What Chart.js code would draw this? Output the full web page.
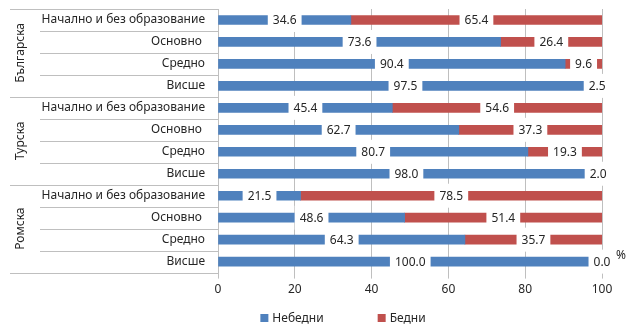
<!DOCTYPE html>
<html>
<head>
<meta charset="utf-8">
<script src="https://cdn.jsdelivr.net/npm/chart.js@4.4.1/dist/chart.umd.min.js"></script>
<style>
  html, body { margin: 0; padding: 0; background: #ffffff; }
  #wrap { width: 630px; height: 330px; position: relative; }
</style>
</head>
<body>
<div id="wrap"><canvas id="c"></canvas></div>
<script>
// Ethnic groups, each split into four education levels
const groups = ['Българска', 'Турска', 'Ромска'];
const levels = ['Начално и без образование', 'Основно ', 'Средно', 'Висше'];

// Share (%) of non-poor and poor, in the order groups × levels
const nonPoor = [34.6, 73.6, 90.4, 97.5, 45.4, 62.7, 80.7, 98.0, 21.5, 48.6, 64.3, 100.0];
const poor    = [65.4, 26.4, 9.6, 2.5, 54.6, 37.3, 19.3, 2.0, 78.5, 51.4, 35.7, 0.0];

const seriesNames = ['Небедни', 'Бедни'];
const seriesColors = ['#4f81bd', '#c0504d'];
const xTicks = [0, 20, 40, 60, 80, 100];
const unitLabel = '%';

const categories = [];
groups.forEach(() => levels.forEach(l => categories.push(l)));

const FONT = 'Noto Sans';
const TEXT = '#262626';
const LINE = '#bfbfbf';
const font12 = '12px "' + FONT + '"';

// Value labels on white boxes, centred on every segment
const valueLabels = {
  id: 'valueLabels',
  afterDatasetsDraw(chart) {
    const ctx = chart.ctx;
    ctx.save();
    ctx.font = font12;
    ctx.textAlign = 'center';
    ctx.textBaseline = 'middle';
    chart.data.datasets.forEach((ds, di) => {
      const meta = chart.getDatasetMeta(di);
      meta.data.forEach((bar, i) => {
        const txt = ds.data[i].toFixed(1);
        const cx = (bar.x + bar.base) / 2;
        const w = ctx.measureText(txt).width + 10;
        ctx.fillStyle = '#ffffff';
        ctx.fillRect(cx - w / 2, bar.y - 12, w, 24);
        ctx.fillStyle = TEXT;
        ctx.fillText(txt, cx, bar.y + 1);
      });
    });
    ctx.restore();
  }
};

// Category and group captions with separator lines, the unit sign and the legend
const frame = {
  id: 'frame',
  afterDraw(chart) {
    const ctx = chart.ctx;
    const area = chart.chartArea;
    const n = categories.length;
    const step = (area.bottom - area.top) / n;
    const bars = chart.getDatasetMeta(0).data;
    ctx.save();
    ctx.strokeStyle = LINE;
    ctx.lineWidth = 1;
    for (let i = 0; i <= n; i++) {
      const yy = Math.round(area.top + i * step) + 0.5;
      const x0 = (i % levels.length === 0) ? 10 : 40;
      ctx.beginPath();
      ctx.moveTo(x0, yy);
      ctx.lineTo(area.left, yy);
      ctx.stroke();
    }
    ctx.fillStyle = TEXT;
    ctx.font = font12;
    ctx.textBaseline = 'middle';

    // education levels, right-aligned next to the axis
    ctx.textAlign = 'right';
    categories.forEach((c, i) => {
      ctx.fillText(c, area.left - 13, bars[i].y);
    });

    // rotated group names
    ctx.textAlign = 'center';
    groups.forEach((g, gi) => {
      const top = area.top + gi * levels.length * step;
      const cy = top + levels.length * step / 2;
      ctx.save();
      ctx.translate(21, cy);
      ctx.rotate(-Math.PI / 2);
      ctx.fillText(g, 0, 0);
      ctx.restore();
    });

    // unit sign at the end of the value axis
    ctx.textAlign = 'left';
    ctx.fillText(unitLabel, area.right + 14, bars[n - 1].y - 6);

    // legend
    const box = 8, gapText = 4, gapItem = 54;
    const widths = seriesNames.map(s => box + gapText + ctx.measureText(s).width);
    const total = widths.reduce((a, b) => a + b, 0) + gapItem * (seriesNames.length - 1);
    let x = 343 - total / 2;
    const ly = 318;
    seriesNames.forEach((s, i) => {
      ctx.fillStyle = seriesColors[i];
      ctx.fillRect(x, ly - box / 2, box, box);
      ctx.fillStyle = TEXT;
      ctx.fillText(s, x + box + gapText, ly + 1);
      x += widths[i] + gapItem;
    });
    ctx.restore();
  }
};

new Chart(document.getElementById('c'), {
  type: 'bar',
  data: {
    labels: categories,
    datasets: seriesNames.map((name, i) => ({
      label: name,
      data: i === 0 ? nonPoor : poor,
      backgroundColor: seriesColors[i],
      barThickness: 9
    }))
  },
  options: {
    indexAxis: 'y',
    responsive: true,
    maintainAspectRatio: false,
    animation: false,
    layout: { padding: { left: 84, right: 28, top: 9, bottom: 29 } },
    scales: {
      x: {
        stacked: true,
        min: 0,
        max: 100,
        afterBuildTicks: s => { s.ticks = xTicks.map(v => ({ value: v })); },
        grid: { color: LINE, tickLength: 6, drawTicks: true },
        border: { display: false },
        ticks: { color: TEXT, font: { family: FONT, size: 12 }, padding: 4 }
      },
      y: {
        stacked: true,
        afterFit: s => { s.width = 134; },
        grid: { display: false, drawTicks: false },
        border: { display: true, color: LINE },
        ticks: { display: false }
      }
    },
    plugins: {
      legend: { display: false },
      tooltip: { enabled: false }
    }
  },
  plugins: [valueLabels, frame]
});
</script>
</body>
</html>
